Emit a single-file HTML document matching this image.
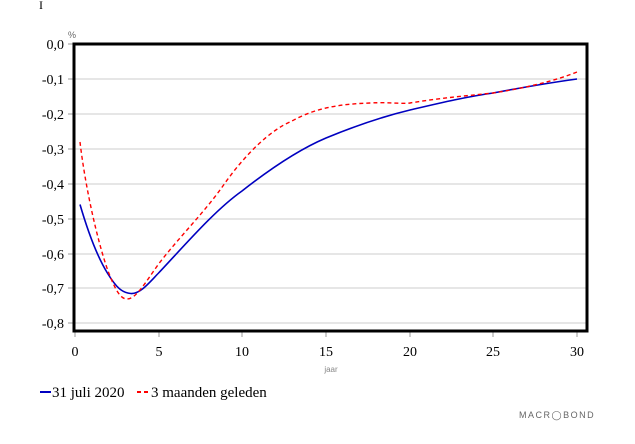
<!DOCTYPE html>
<html><head><style>
body{margin:0;background:#fff;}
svg{display:block;font-family:"Liberation Serif",serif;}
</style></head><body>
<svg width="635" height="444" xmlns="http://www.w3.org/2000/svg">
<text x="39" y="9" font-size="12">I</text>
<text x="68" y="38" font-size="9" fill="#666" font-family="Liberation Sans, sans-serif">%</text>
<g stroke="#d8d8d8" stroke-width="1.2">
<line x1="74" x2="587" y1="79" y2="79"/><line x1="74" x2="587" y1="114" y2="114"/>
<line x1="74" x2="587" y1="149" y2="149"/><line x1="74" x2="587" y1="184" y2="184"/>
<line x1="74" x2="587" y1="219" y2="219"/><line x1="74" x2="587" y1="254" y2="254"/>
<line x1="74" x2="587" y1="288" y2="288"/><line x1="74" x2="587" y1="323" y2="323"/>
</g>
<g stroke="#999" stroke-width="1">
<line x1="68" x2="73" y1="44" y2="44"/><line x1="68" x2="73" y1="79" y2="79"/><line x1="68" x2="73" y1="114" y2="114"/>
<line x1="68" x2="73" y1="149" y2="149"/><line x1="68" x2="73" y1="184" y2="184"/><line x1="68" x2="73" y1="219" y2="219"/>
<line x1="68" x2="73" y1="254" y2="254"/><line x1="68" x2="73" y1="288" y2="288"/><line x1="68" x2="73" y1="323" y2="323"/>
<line x1="75" x2="75" y1="332" y2="337"/><line x1="159" x2="159" y1="332" y2="337"/><line x1="242" x2="242" y1="332" y2="337"/>
<line x1="326" x2="326" y1="332" y2="337"/><line x1="410" x2="410" y1="332" y2="337"/><line x1="493" x2="493" y1="332" y2="337"/>
<line x1="577" x2="577" y1="332" y2="337"/>
</g>
<g font-size="14" text-anchor="end" fill="#000">
<text x="64" y="49">0,0</text><text x="64" y="84">-0,1</text><text x="64" y="119">-0,2</text>
<text x="64" y="154">-0,3</text><text x="64" y="189">-0,4</text><text x="64" y="224">-0,5</text>
<text x="64" y="259">-0,6</text><text x="64" y="293">-0,7</text><text x="64" y="328">-0,8</text>
</g>
<g font-size="14" text-anchor="middle">
<text x="75" y="356">0</text><text x="159" y="356">5</text><text x="242" y="356">10</text><text x="326" y="356">15</text>
<text x="410" y="356">20</text><text x="493" y="356">25</text><text x="577" y="356">30</text>
</g>
<text x="331" y="372" font-size="8" fill="#888" text-anchor="middle" font-family="Liberation Sans, sans-serif">jaar</text>
<path fill="none" stroke="#0000c0" stroke-width="1.6" d="M80,204.5 C86,225 96,255 108,274 C116,287 122,293 131,293.5 C140,294 148,284 158.6,273 C185,245 215,210 242,191 C270,169 300,149 326,138 C355,126 385,116 410,110 C440,103 465,97 493,93 C525,87 555,82 577,79"/>
<path fill="none" stroke="#ff0000" stroke-width="1.4" stroke-dasharray="4,3" d="M80,142 C85,185 97,240 108,271 C115,289 120,299 127,299 C136,299 145,283 158.6,264 C180,236 205,212 225,183 C245,155 270,130 292,121 C315,108 340,104 370,103 C390,102 400,104 410,103 C440,98 465,96 493,93 C525,88 555,81 577,72"/>
<rect x="74" y="44" width="513" height="287" fill="none" stroke="#000" stroke-width="3"/>
<line x1="40" x2="51" y1="392" y2="392" stroke="#0000c0" stroke-width="2"/>
<text x="52" y="397" font-size="15">31 juli 2020</text>
<line x1="137" x2="150" y1="392" y2="392" stroke="#ff0000" stroke-width="2" stroke-dasharray="4,3"/>
<text x="151" y="397" font-size="15">3 maanden geleden</text>
<text x="519" y="418" font-size="9" fill="#666" letter-spacing="1.5" font-family="Liberation Sans, sans-serif">MACR◯BOND</text>
</svg>
</body></html>
